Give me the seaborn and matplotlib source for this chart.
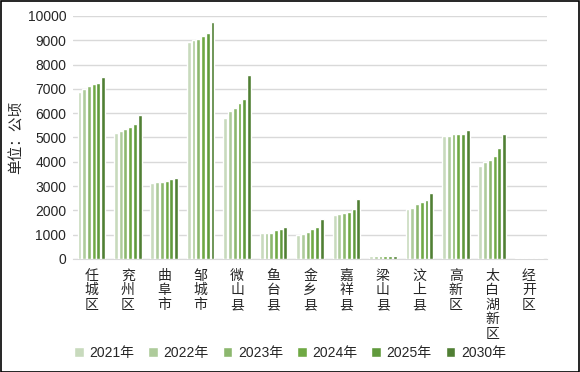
import matplotlib
matplotlib.use("Agg")
import matplotlib.pyplot as plt
import seaborn as sns
import pandas as pd
from matplotlib.patches import Rectangle

regions = ["任城区", "兖州区", "曲阜市", "邹城市", "微山县", "鱼台县", "金乡县",
           "嘉祥县", "梁山县", "汶上县", "高新区", "太白湖新区", "经开区"]
years = ["2021年", "2022年", "2023年", "2024年", "2025年", "2030年"]

v2021 = [6870, 5185, 3130, 8930, 5800, 1070, 990, 1810, 100, 2060, 5060, 3830, 50]
v2022 = [6980, 5270, 3170, 9010, 6090, 1070, 1030, 1850, 100, 2100, 5060, 3990, 50]
v2023 = [7120, 5350, 3170, 9050, 6210, 1070, 1110, 1890, 100, 2260, 5140, 4070, 50]
v2024 = [7200, 5430, 3210, 9180, 6420, 1190, 1235, 1935, 100, 2350, 5140, 4240, 50]
v2025 = [7240, 5555, 3290, 9300, 6580, 1235, 1320, 2060, 100, 2430, 5140, 4570, 50]
v2030 = [7490, 5925, 3330, 9750, 7570, 1320, 1650, 2470, 100, 2720, 5310, 5140, 50]

colors = ["#C8DABD", "#AECB9B", "#8CB76E", "#6FA944", "#609A3C", "#507F34"]

series = [v2021, v2022, v2023, v2024, v2025, v2030]
rows = []
for y, vals in zip(years, series):
    for r, v in zip(regions, vals):
        rows.append({"region": r, "year": y, "value": v})
df = pd.DataFrame(rows)

sns.set_style("white")
plt.rcParams['font.family'] = ['Noto Sans CJK SC', 'DejaVu Sans']

fig = plt.figure(figsize=(5.8, 3.72), dpi=100)
ax = fig.add_axes([0.126, 0.304, 0.817, 0.653])

sns.barplot(data=df, x="region", y="value", hue="year", palette=colors,
            order=regions, hue_order=years, width=0.78, gap=0.18,
            ax=ax, legend=True, saturation=1)

ax.set_ylim(0, 10000)
ax.set_yticks(range(0, 10001, 1000))
ax.set_yticklabels([str(t) for t in range(0, 10001, 1000)],
                   fontfamily=['Liberation Sans', 'DejaVu Sans'], fontsize=10, color="#262626")
ax.yaxis.grid(True, color="#D9D9D9", linewidth=1)
ax.set_axisbelow(True)
ax.set_xlim(-0.5, len(regions) - 0.5)
for s in ["top", "right", "left"]:
    ax.spines[s].set_visible(False)
ax.spines["bottom"].set_color("#D9D9D9")
ax.spines["bottom"].set_zorder(0.5)
ax.tick_params(axis="both", length=0)
ax.tick_params(axis="y", pad=5)
ax.set_xticks(range(len(regions)))
ax.set_xticklabels(["\n".join(r) for r in regions], fontsize=10, color="#262626",
                   linespacing=1.05, va="top")
ax.tick_params(axis="x", pad=7)
ax.set_xlabel("")
ax.set_ylabel("单位：公顷", fontsize=10.5, color="#262626", labelpad=3)

handles, labels = ax.get_legend_handles_labels()
ax.legend_.remove()
fig.legend(handles, labels, loc="center", bbox_to_anchor=(0.5, 0.052), ncol=6,
           frameon=False, handlelength=0.7, handleheight=0.7,
           handletextpad=0.4, columnspacing=1.0,
           prop={'family': ['Liberation Sans', 'Noto Sans CJK SC'], 'size': 10})

fig.patches.append(Rectangle((0.001, 0.001), 0.997, 0.997, transform=fig.transFigure,
                             fill=False, edgecolor="black", linewidth=1.2))

fig.savefig("out.png", dpi=100)
